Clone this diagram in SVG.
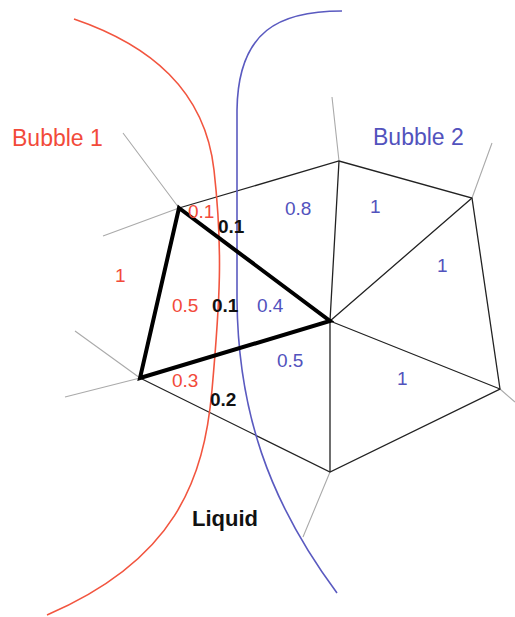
<svg xmlns="http://www.w3.org/2000/svg" width="515" height="617" viewBox="0 0 515 617">
<style>
text{font-family:"Liberation Sans",Arial,sans-serif}
.r{fill:#f24a3a}
.b{fill:#5252bd}
.k{fill:#111;font-weight:bold}
.lbl{font-size:23px}
.num{font-size:19px}
.thin{stroke:#222;stroke-width:1.3;fill:none}
.thick{stroke:#000;stroke-width:4;fill:none;stroke-linejoin:miter}
.stub{stroke:#aaa;stroke-width:1.1;fill:none}
</style>
<rect width="515" height="617" fill="#fff"/>
<g id="stubs">
<path class="stub" d="M179,208 L123,133 M179,208 L103,236 M140,378 L75,331 M140,378 L65,397 M339,161 L332,97 M472,198 L492,143 M500,389 L515,402 M330,472 L303,537"/>
</g>
<g id="connectors">
<path class="thin" d="M179,208 L339,161 L472,198 L500,389 L330,472 L140,378"/>
<path class="thin" d="M330,321 L339,161 M330,321 L472,198 M330,321 L500,389 M330,321 L330,472"/>
</g>
<g id="interfaces">
<path id="bubble1-curve" d="M74,19 C150,45 205,90 214,170 S220,300 212,390 S175,560 47,615" fill="none" stroke="#f2553f" stroke-width="1.6"/>
<path id="bubble2-curve" d="M342,11 C280,11 238,30 237,110 L237,300 C238,410 268,500 337,593" fill="none" stroke="#5a5ac0" stroke-width="1.6"/>
</g>
<g id="cell">
<path class="thick" d="M179,208 L330,321 L140,378 Z"/>
</g>
<g id="labels">
<text class="r lbl" x="12" y="146">Bubble 1</text>
<text class="b lbl" x="373" y="145">Bubble 2</text>
<text class="k" x="192" y="526" style="font-size:22px">Liquid</text>
<text class="r num" x="115" y="282">1</text>
<text class="r num" x="188" y="218">0.1</text>
<text class="k num" x="218" y="233">0.1</text>
<text class="b num" x="285" y="215">0.8</text>
<text class="b num" x="370" y="213">1</text>
<text class="b num" x="437" y="272">1</text>
<text class="r num" x="172" y="312">0.5</text>
<text class="k num" x="212" y="312">0.1</text>
<text class="b num" x="257" y="312">0.4</text>
<text class="b num" x="277" y="367">0.5</text>
<text class="r num" x="172" y="387">0.3</text>
<text class="k num" x="210" y="406">0.2</text>
<text class="b num" x="397" y="385">1</text>
</g>
</svg>
